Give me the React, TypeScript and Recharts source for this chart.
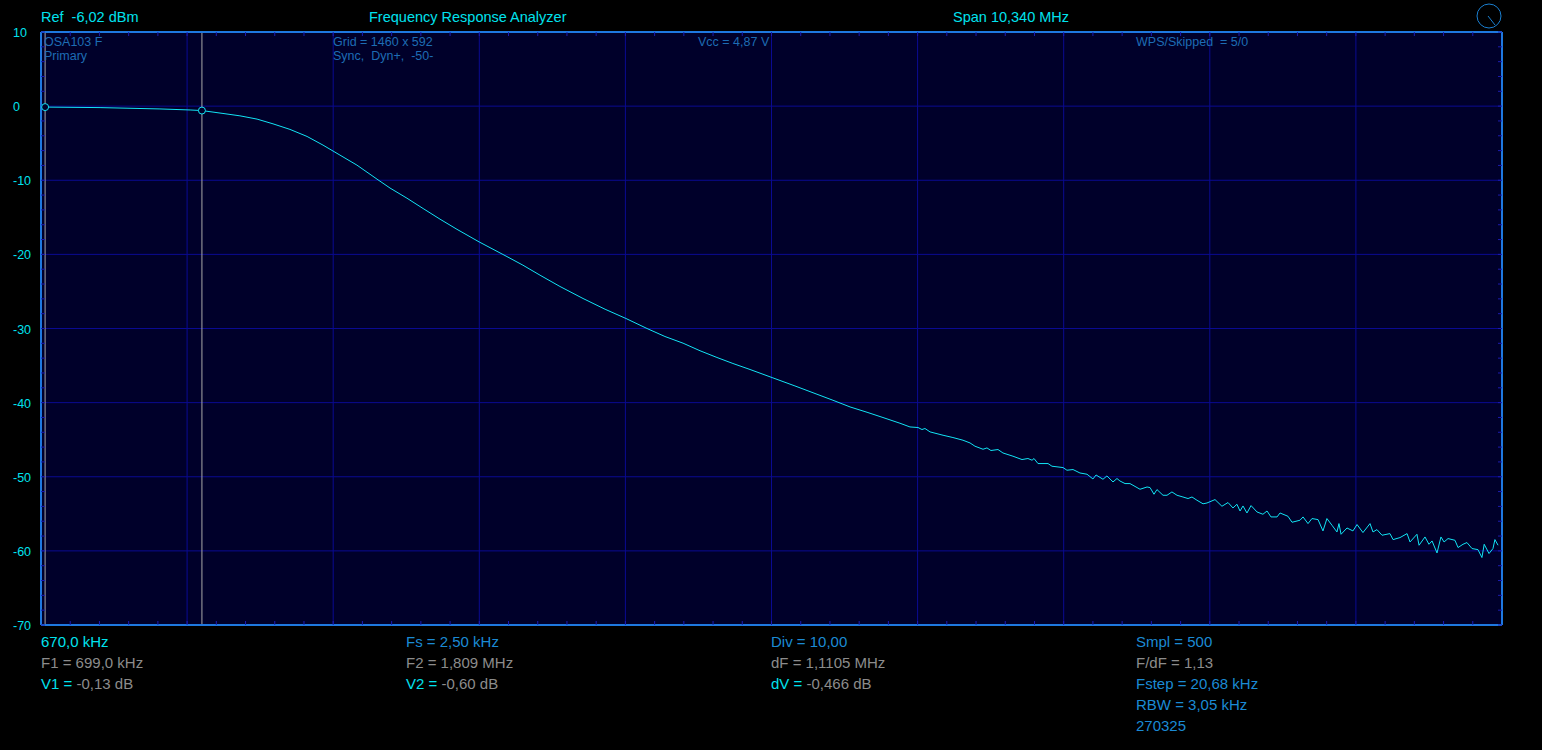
import React from "react";
import {
  LineChart,
  Line,
  XAxis,
  YAxis,
  CartesianGrid,
  ReferenceLine,
  ReferenceDot,
} from "recharts";

// measured trace, frequency in MHz and level in dB
const freqMHz = [
  0.699, 1.088, 1.512, 1.725, 1.809, 1.958, 2.078, 2.199, 2.312, 2.432,
  2.553, 2.666, 2.786, 2.906, 3.048, 3.14, 3.26, 3.374, 3.494, 3.614,
  3.77, 3.968, 4.081, 4.202, 4.343, 4.506, 4.662, 4.81, 4.959, 5.086,
  5.214, 5.334, 5.454, 5.567, 5.688, 5.844, 6.006, 6.162, 6.275, 6.396,
  6.516, 6.629, 6.749, 6.82, 6.877, 6.905, 6.926, 6.962, 7.054, 7.124,
  7.195, 7.245, 7.28, 7.337, 7.365, 7.393, 7.443, 7.478, 7.549, 7.613,
  7.655, 7.684, 7.698, 7.726, 7.797, 7.825, 7.903, 7.931, 7.974, 8.023,
  8.073, 8.115, 8.137, 8.186, 8.214, 8.257, 8.285, 8.306, 8.342, 8.377,
  8.427, 8.448, 8.498, 8.519, 8.547, 8.568, 8.611, 8.639, 8.674, 8.71,
  8.752, 8.788, 8.816, 8.851, 8.894, 8.922, 8.979, 9.028, 9.071, 9.106,
  9.134, 9.156, 9.177, 9.205, 9.234, 9.276, 9.318, 9.347, 9.375, 9.418,
  9.439, 9.495, 9.524, 9.58, 9.602, 9.637, 9.665, 9.708, 9.743, 9.771,
  9.807, 9.842, 9.856, 9.871, 9.913, 9.955, 9.984, 10.026, 10.076, 10.097,
  10.125, 10.161, 10.217, 10.239, 10.288, 10.338, 10.359, 10.408, 10.423, 10.465,
  10.493, 10.515, 10.55, 10.578, 10.6, 10.628, 10.677, 10.699, 10.734, 10.762,
  10.798, 10.84, 10.868, 10.884, 10.918, 10.946, 10.96, 10.982,
];

const levelDb = [
  -0.13, -0.2, -0.38, -0.52, -0.6, -0.99, -1.31, -1.75, -2.39, -3.14,
  -4.09, -5.26, -6.61, -7.96, -9.85, -11.05, -12.42, -13.81, -15.25, -16.62,
  -18.31, -20.3, -21.46, -22.81, -24.33, -25.95, -27.4, -28.65, -30.0, -31.08,
  -31.98, -33.0, -33.91, -34.72, -35.53, -36.62, -37.75, -38.87, -39.68, -40.58,
  -41.3, -42.01, -42.78, -43.28, -43.36, -43.63, -43.49, -43.95, -44.4, -44.71,
  -45.07, -45.44, -45.88, -46.29, -46.11, -46.46, -46.33, -46.79, -47.23, -47.68,
  -47.54, -47.77, -47.54, -48.22, -48.22, -48.58, -48.76, -49.12, -49.03, -49.49,
  -49.66, -50.3, -49.76, -50.34, -49.89, -50.7, -50.24, -50.57, -50.92, -50.92,
  -51.46, -51.69, -51.38, -51.46, -52.36, -51.73, -52.5, -52.5, -52.05, -52.5,
  -52.73, -52.94, -52.73, -53.17, -53.65, -53.54, -53.08, -53.98, -53.48, -54.21,
  -53.71, -54.62, -53.94, -54.89, -53.89, -54.75, -55.06, -54.62, -55.42, -55.42,
  -54.89, -55.33, -56.14, -55.87, -55.42, -56.32, -55.64, -55.78, -57.31, -55.64,
  -56.55, -57.45, -56.32, -57.76, -56.91, -57.31, -56.45, -57.53, -56.32, -57.45,
  -57.13, -57.89, -57.67, -58.48, -58.21, -57.67, -58.8, -57.76, -59.24, -58.12,
  -59.11, -58.66, -60.28, -58.12, -58.8, -58.34, -58.57, -59.55, -59.11, -58.88,
  -59.69, -59.83, -60.9, -59.11, -60.36, -59.69, -58.48, -59.24,
];

const yTickLabels = [10, 0, -10, -20, -30, -40, -50, -60, -70];
const xGridMHz = [
  0.67, 1.704, 2.738, 3.772, 4.806, 5.84, 6.874, 7.908, 8.942, 9.976, 11.01,
];
const markerFreqs = [0.699, 1.809];
const markerLevels = [-0.13, -0.6];

const data = freqMHz.map((f, i) => ({ f, db: levelDb[i] }));

// 5 minor divisions per grid cell
const xMinor = Array.from({ length: 51 }, (_, i) => +(0.67 + i * 0.2068).toFixed(4));
const yMinor = Array.from({ length: 41 }, (_, i) => 10 - i * 2);

const FONT = "'Liberation Sans', Arial, sans-serif";
const CYAN = "#00e2ee";
const BLUE = "#1b8ad4";
const GRAY = "#8c8c8c";
const DIM = "#1d6cb4";
const BG = "#00002a";
const GRID = "#0a0a92";
const BORDER = "#1e78e0";
const TICK = "#1c1cb0";

const YTick = (props: any) => {
  const { y, payload } = props;
  if (payload.value % 10 !== 0) return <g />;
  return (
    <text x={13} y={y + 5} fill={CYAN} fontSize={12.5} fontFamily={FONT}>
      {payload.value}
    </text>
  );
};

const none = () => "";

export default function App() {
  return (
    <div
      style={{
        position: "absolute",
        left: 0,
        top: 0,
        width: 1542,
        height: 750,
        background: "#000",
        overflow: "hidden",
      }}
    >
      <LineChart
        width={1542}
        height={750}
        data={data}
        margin={{ top: 32, right: 40, bottom: 125, left: 41 }}
      >
        <CartesianGrid
          stroke={GRID}
          fill={BG}
          fillOpacity={1}
          horizontalValues={yTickLabels}
          verticalValues={xGridMHz}
        />
        <XAxis
          dataKey="f"
          type="number"
          domain={[0.67, 11.01]}
          allowDataOverflow
          ticks={xMinor}
          interval={0}
          mirror
          height={20}
          tickSize={4}
          tickFormatter={none}
          tickLine={{ stroke: TICK }}
          axisLine={{ stroke: BORDER, strokeWidth: 2 }}
        />
        <XAxis
          xAxisId="top"
          orientation="top"
          dataKey="f"
          type="number"
          domain={[0.67, 11.01]}
          allowDataOverflow
          ticks={xMinor}
          interval={0}
          mirror
          height={20}
          tickSize={4}
          tickFormatter={none}
          tickLine={{ stroke: TICK }}
          axisLine={{ stroke: BORDER, strokeWidth: 2 }}
        />
        <YAxis
          type="number"
          domain={[-70, 10]}
          allowDataOverflow
          ticks={yMinor}
          interval={0}
          mirror
          width={41}
          tickSize={4}
          tick={YTick}
          tickLine={{ stroke: TICK }}
          axisLine={{ stroke: BORDER, strokeWidth: 2 }}
        />
        <YAxis
          yAxisId="right"
          orientation="right"
          type="number"
          domain={[-70, 10]}
          allowDataOverflow
          ticks={yMinor}
          interval={0}
          mirror
          width={40}
          tickSize={4}
          tickFormatter={none}
          tickLine={{ stroke: TICK }}
          axisLine={{ stroke: BORDER, strokeWidth: 2 }}
        />
        {markerFreqs.map((f) => (
          <ReferenceLine key={f} x={f} stroke="#a8a8a8" strokeWidth={1} />
        ))}
        <Line
          dataKey="db"
          type="linear"
          stroke="#12e4f4"
          strokeWidth={1}
          dot={false}
          isAnimationActive={false}
        />
        {markerFreqs.map((f, i) => (
          <ReferenceDot
            key={"d" + f}
            x={f}
            y={markerLevels[i]}
            r={3.5}
            fill={BG}
            stroke="#12e4f4"
            strokeWidth={1}
          />
        ))}
      </LineChart>

      <svg
        width={1542}
        height={750}
        style={{ position: "absolute", left: 0, top: 0, pointerEvents: "none" }}
        fontFamily={FONT}
      >
        <g fontSize={14.5} fill={CYAN}>
          <text x={41} y={22} xmlSpace="preserve">Ref  -6,02 dBm</text>
          <text x={369} y={22}>Frequency Response Analyzer</text>
          <text x={953} y={22}>Span 10,340 MHz</text>
        </g>
        <circle cx={1489} cy={16} r={12} fill="none" stroke="#1a7fd0" strokeWidth={1} />
        <line x1={1488} y1={16} x2={1495} y2={25} stroke="#1a7fd0" strokeWidth={1} />

        <g fontSize={12.5} fill={DIM}>
          <text x={44} y={46}>OSA103 F</text>
          <text x={44} y={60}>Primary</text>
          <text x={333} y={46}>Grid = 1460 x 592</text>
          <text x={333} y={60} xmlSpace="preserve">Sync,  Dyn+,  -50-</text>
          <text x={698} y={46}>Vcc = 4,87 V</text>
          <text x={1136} y={46} xmlSpace="preserve">WPS/Skipped  = 5/0</text>
        </g>

        <g fontSize={15}>
          <text x={41} y={647} fill={CYAN}>670,0 kHz</text>
          <text x={41} y={668} fill={GRAY}>F1 = 699,0 kHz</text>
          <text x={41} y={689} fill={GRAY} xmlSpace="preserve">
            <tspan fill={CYAN}>V1 = </tspan>-0,13 dB
          </text>

          <text x={406} y={647} fill={BLUE}>Fs = 2,50 kHz</text>
          <text x={406} y={668} fill={GRAY}>F2 = 1,809 MHz</text>
          <text x={406} y={689} fill={GRAY} xmlSpace="preserve">
            <tspan fill={CYAN}>V2 = </tspan>-0,60 dB
          </text>

          <text x={771} y={647} fill={BLUE}>Div = 10,00</text>
          <text x={771} y={668} fill={GRAY}>dF = 1,1105 MHz</text>
          <text x={771} y={689} fill={GRAY} xmlSpace="preserve">
            <tspan fill={CYAN}>dV = </tspan>-0,466 dB
          </text>

          <text x={1136} y={647} fill={BLUE}>Smpl = 500</text>
          <text x={1136} y={668} fill={GRAY}>F/dF = 1,13</text>
          <text x={1136} y={689} fill={BLUE}>Fstep = 20,68 kHz</text>
          <text x={1136} y={710} fill={BLUE}>RBW = 3,05 kHz</text>
          <text x={1136} y={731} fill={BLUE}>270325</text>
        </g>
      </svg>
    </div>
  );
}
